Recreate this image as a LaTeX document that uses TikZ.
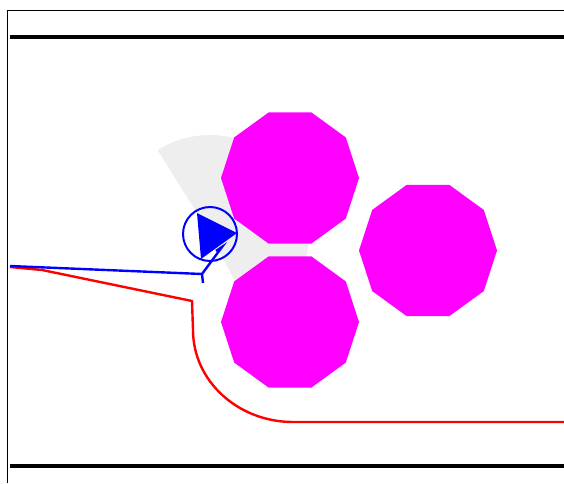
\documentclass[tikz,border=0pt]{standalone}
\usetikzlibrary{shapes.geometric}
\definecolor{obstaclecol}{RGB}{255,0,255}
\definecolor{pathred}{RGB}{255,0,0}
\definecolor{pathblue}{RGB}{0,0,255}
\begin{document}
\begin{tikzpicture}[x=0.5mm,y=-0.5mm,
    obstacle/.style={regular polygon,regular polygon sides=10,fill=obstaclecol,
      inner sep=0pt,minimum size=69mm},
    wall/.style={line width=2mm}]
    \useasboundingbox (0,0) rectangle (564,483);
    \draw[line width=0.5mm] (7,483) -- (7,10) -- (564,10);
    \draw[wall] (10,37) -- (564,37);
    \draw[wall] (10,465.5) -- (564,465.5);
    \coordinate (robot) at (210,234);
    \fill[gray!13] (robot) -- ++(-122:99) arc[start angle=-122,end angle=62,radius=99] -- cycle;
    \node[obstacle] (obsA) at (290,178) {};
    \node[obstacle] (obsB) at (428,250.5) {};
    \node[obstacle] (obsC) at (290,322) {};
    \draw[pathred,line width=1.2mm] (10,267) -- (42,270) -- (192,301) -- (193,330)
      arc[start angle=180,end angle=90,x radius=100,y radius=92] -- (564,422);
    \draw[pathblue,line width=1.2mm] (10,266) -- (202,274) -- (222,247) -- (216,251);
    \draw[pathblue,line width=1.2mm] (202,274) -- (203,283);
    \draw[pathblue,line width=1mm] (robot) circle[radius=27];
    \fill[pathblue] (197,213) -- (237,233) -- (201,259) -- cycle;
  \end{tikzpicture}
\end{document}
